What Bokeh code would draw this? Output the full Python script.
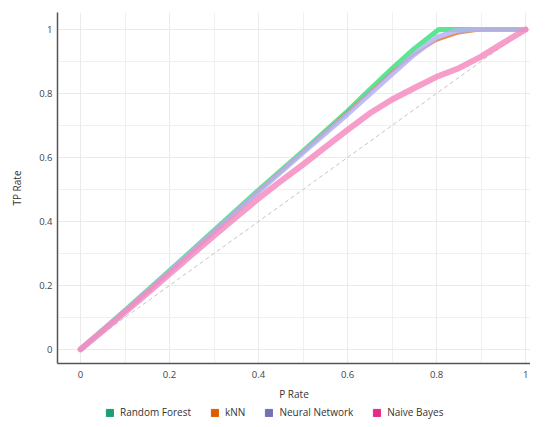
from bokeh.plotting import figure
from bokeh.models import Range1d, FixedTicker, Legend, LegendItem
from bokeh.layouts import column
from bokeh.embed import file_html
from bokeh.resources import INLINE

# ---- data ----
series_names = ["Random Forest", "kNN", "Neural Network", "Naive Bayes"]

rf_x = [0, 0.1, 0.2, 0.3, 0.4, 0.5, 0.6, 0.65, 0.7, 0.75, 0.805, 0.9, 1.0]
rf_y = [0, 0.122, 0.246, 0.372, 0.498, 0.62, 0.745, 0.812, 0.878, 0.94, 1.0, 1.0, 1.0]

knn_x = [0, 0.1, 0.2, 0.3, 0.4, 0.5, 0.6, 0.65, 0.7, 0.75, 0.8, 0.85, 0.9, 0.95, 1.0]
knn_y = [0, 0.122, 0.246, 0.372, 0.498, 0.62, 0.743, 0.805, 0.868, 0.922, 0.965, 0.988, 0.998, 1.0, 1.0]

nn_x = [0, 0.1, 0.2, 0.3, 0.4, 0.5, 0.6, 0.65, 0.7, 0.75, 0.8, 0.84, 0.88, 1.0]
nn_y = [0, 0.12, 0.243, 0.368, 0.493, 0.615, 0.735, 0.798, 0.86, 0.922, 0.975, 0.995, 1.0, 1.0]

nb_x = [0, 0.05, 0.1, 0.15, 0.2, 0.25, 0.3, 0.35, 0.4, 0.45, 0.5, 0.55, 0.6, 0.65,
        0.7, 0.75, 0.8, 0.85, 0.9, 0.95, 1.0]
nb_y = [0, 0.058, 0.116, 0.176, 0.236, 0.296, 0.355, 0.414, 0.472, 0.526, 0.578, 0.632,
        0.686, 0.738, 0.781, 0.817, 0.852, 0.879, 0.915, 0.958, 1.0]

diag_x = [0, 1]
diag_y = [0, 1]

tick_vals = [0, 0.2, 0.4, 0.6, 0.8, 1.0]
tick_labels = ["0", "0.2", "0.4", "0.6", "0.8", "1"]
minor_vals = [0.1, 0.3, 0.5, 0.7, 0.9]

legend_colors = ["#1b9e77", "#d95f02", "#7570b3", "#e7298a"]
line_colors = ["#3fe07f", "#e47a2c", "#b6b2f4", "#f48cc0"]
line_widths = [5, 2.2, 5, 6]

FONT = "Open Sans"
NAN = float("nan")

p = figure(width=530, height=403, output_backend="svg", toolbar_location=None,
           x_range=Range1d(-0.0517, 1.011), y_range=Range1d(-0.044, 1.053),
           min_border_left=57, min_border_right=0, min_border_top=12, min_border_bottom=38)
p.outline_line_color = None
p.background_fill_color = "white"
p.border_fill_color = "white"

for ax in (p.xaxis[0], p.yaxis[0]):
    ax.ticker = FixedTicker(ticks=tick_vals, minor_ticks=minor_vals)
    ax.major_label_overrides = {v: l for v, l in zip(tick_vals, tick_labels)}
    ax.major_tick_line_color = None
    ax.minor_tick_line_color = None
    ax.major_tick_out = 0
    ax.major_tick_in = 0
    ax.minor_tick_out = 0
    ax.minor_tick_in = 0
    ax.axis_line_color = "#555555"
    ax.axis_line_width = 1.5
    ax.major_label_text_font = FONT
    ax.major_label_text_font_size = "9.5px"
    ax.major_label_text_color = "#444444"
    ax.axis_label_text_font = FONT
    ax.axis_label_text_font_size = "10px"
    ax.axis_label_text_font_style = "normal"
    ax.axis_label_text_color = "#333333"

p.xaxis.axis_label = "P Rate"
p.yaxis.axis_label = "TP Rate"
p.xaxis.major_label_standoff = 7
p.yaxis.major_label_standoff = 5
p.xaxis.axis_label_standoff = 6
p.yaxis.axis_label_standoff = 12

for g in (p.xgrid[0], p.ygrid[0]):
    g.grid_line_color = "#ebebeb"
    g.minor_grid_line_color = "#f0f0f0"

p.line(diag_x, diag_y, line_color="#c4c4c4", line_dash="4 3", line_width=1)

xs = [rf_x, knn_x, nn_x, nb_x]
ys = [rf_y, knn_y, nn_y, nb_y]
for x, y, c, w in zip(xs, ys, line_colors, line_widths):
    p.line(x, y, line_color=c, line_width=w, line_alpha=0.85, line_cap="round", line_join="round")

# legend row below the chart
lf = figure(width=530, height=16, output_backend="svg", toolbar_location=None,
            x_range=Range1d(0, 1), y_range=Range1d(0, 1),
            min_border_left=0, min_border_right=0, min_border_top=0, min_border_bottom=0)
lf.axis.visible = False
lf.grid.visible = False
lf.outline_line_color = None
lf.border_fill_color = "white"
lf.background_fill_color = "white"

items = []
for name, c in zip(series_names, legend_colors):
    r = lf.quad(left=[NAN], right=[NAN], bottom=[NAN], top=[NAN], fill_color=c, line_color=c)
    items.append(LegendItem(label=name, renderers=[r]))

legend = Legend(items=items, orientation="horizontal", location=(48, 0),
                border_line_alpha=0, background_fill_alpha=0,
                label_text_font=FONT, label_text_font_size="10px", label_text_color="#333333",
                glyph_width=9, glyph_height=9, label_standoff=6, spacing=19,
                padding=0, margin=0, label_height=12)
lf.add_layout(legend, "center")

layout = column(p, lf, spacing=0)
open("out.html", "w").write(file_html(layout, INLINE))
